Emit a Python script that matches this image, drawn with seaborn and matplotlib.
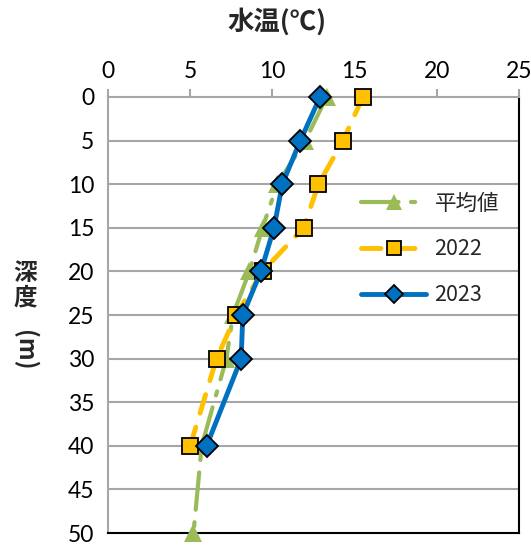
import matplotlib
matplotlib.use("Agg")
import pandas as pd
import matplotlib.pyplot as plt
import seaborn as sns

# depth (m) and water temperature (deg C)
depth_avg = [0, 5, 10, 15, 20, 25, 30, 40, 50]
temp_avg = [13.3, 12.0, 10.3, 9.4, 8.6, 7.6, 7.2, 5.7, 5.2]

depth_2022 = [0, 5, 10, 15, 20, 25, 30, 40]
temp_2022 = [15.5, 14.3, 12.8, 11.9, 9.4, 7.8, 6.6, 5.0]

depth_2023 = [0, 5, 10, 15, 20, 25, 30, 40]
temp_2023 = [12.9, 11.7, 10.6, 10.1, 9.3, 8.2, 8.1, 6.0]

series_names = ['平均値', '2022', '2023']

sns.set_style("white")
plt.rcParams['font.family'] = ['Noto Sans CJK JP', 'DejaVu Sans']

fig = plt.figure(figsize=(5.31, 5.47), dpi=100)
ax = fig.add_axes([108 / 531, 1 - 533 / 547, 411 / 531, 436 / 547])

# horizontal gridlines
for d in range(5, 50, 5):
    ax.axhline(d, color='#A6A6A6', lw=1.5, zorder=0)

df_avg = pd.DataFrame({'depth': depth_avg, 'temp': temp_avg})
df_22 = pd.DataFrame({'depth': depth_2022, 'temp': temp_2022})
df_23 = pd.DataFrame({'depth': depth_2023, 'temp': temp_2023})

sns.lineplot(data=df_avg, x='temp', y='depth', sort=False, estimator=None, ax=ax,
             color='#9BBB59', lw=3, marker='^', markersize=13, markeredgewidth=0,
             label=series_names[0], zorder=3, clip_on=False)
ax.lines[-1].set_dashes([9, 3, 1, 3])
ax.lines[-1].set_dash_capstyle('round')

sns.lineplot(data=df_22, x='temp', y='depth', sort=False, estimator=None, ax=ax,
             color='#FFC000', lw=3.5, marker='s', markersize=12, markeredgecolor='black',
             markeredgewidth=1.3, label=series_names[1], zorder=4, clip_on=False)
ax.lines[-1].set_dashes([4, 3])
ax.lines[-1].set_dash_capstyle('round')

sns.lineplot(data=df_23, x='temp', y='depth', sort=False, estimator=None, ax=ax,
             color='#0070C0', lw=3.5, marker='D', markersize=11, markeredgecolor='black',
             markeredgewidth=1.3, label=series_names[2], zorder=5, clip_on=False)

ax.set_xlim(0, 25)
ax.set_ylim(50, 0)
ax.set_xticks(range(0, 26, 5))
ax.set_yticks(range(0, 51, 5))
ax.xaxis.tick_top()
ax.set_xlabel('')
ax.set_ylabel('')
ax.tick_params(axis='x', direction='out', length=6, width=1.5, color='#A6A6A6',
               labelcolor='black', labelsize=16.5, pad=5)
ax.tick_params(axis='y', direction='out', length=6, width=1.5, color='#A6A6A6',
               labelcolor='black', labelsize=16.5, pad=4)
for lab in ax.get_xticklabels() + ax.get_yticklabels():
    lab.set_family(['Lato', 'DejaVu Sans'])

for side in ['top', 'left']:
    ax.spines[side].set_color('#A6A6A6')
    ax.spines[side].set_linewidth(1.5)
for side in ['bottom', 'right']:
    ax.spines[side].set_color('black')
    ax.spines[side].set_linewidth(1.5)

leg = ax.legend(loc='upper left', bbox_to_anchor=(0.59, 0.805), frameon=False,
                fontsize=15.5, handlelength=3.0, labelspacing=1.1, handletextpad=0.4,
                borderpad=0, markerscale=0.85)

fig.text(277 / 531, 1 - 22 / 547, '水温(℃)', ha='center', va='center',
         fontsize=19, fontweight='bold')
fig.text(25 / 531, 1 - 285 / 547, '深\n度', ha='center', va='center',
         fontsize=17, fontweight='bold', linespacing=1.05)
fig.text(25 / 531, 1 - 350 / 547, '(m)', ha='center', va='center',
         fontsize=17, fontweight='bold', rotation=270)

fig.savefig('out.png', dpi=100)
